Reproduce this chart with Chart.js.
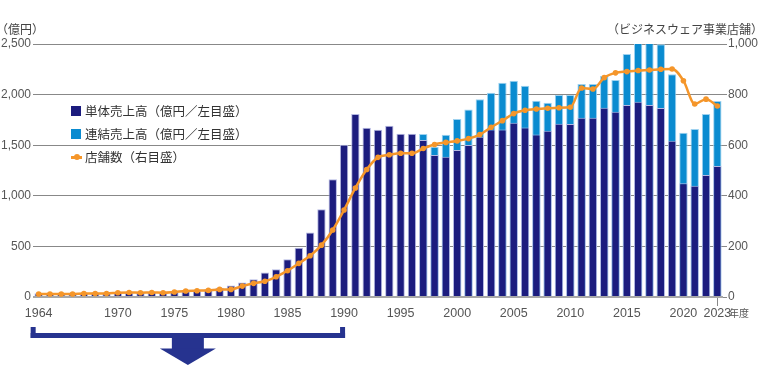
<!DOCTYPE html>
<html><head><meta charset="utf-8">
<script src="https://cdn.jsdelivr.net/npm/chart.js@4/dist/chart.umd.min.js"></script>
<style>
html,body{margin:0;padding:0;background:#fff;}
#wrap{position:relative;width:758px;height:376px;overflow:hidden;font-family:'Noto Sans CJK JP','Noto Sans',sans-serif;}
canvas{position:absolute;left:0;top:0;}
.hdr{position:absolute;font-size:12px;color:#444;line-height:14px;white-space:nowrap;}
.lg{position:absolute;left:71px;height:16px;line-height:16px;font-size:12.5px;color:#333;white-space:nowrap;}
.lg .sq{position:absolute;left:0;top:3px;width:10px;height:10px;}
.lg .tx{position:absolute;left:14px;top:0;}
.lg .ln{position:absolute;left:0;top:7px;width:11px;height:2.5px;background:#f5962a;}
.lg .dt{position:absolute;left:2.5px;top:5px;width:6px;height:6px;border-radius:50%;background:#f5962a;}
.suf{position:absolute;left:729px;top:306px;font-size:10px;color:#555;line-height:14px;}
</style></head>
<body><div id="wrap">
<canvas id="c" width="758" height="376"></canvas>
<div class="hdr" style="left:-4px;top:22px;">（億円）</div>
<div class="hdr" style="right:-5px;top:22px;">（ビジネスウェア事業店舗）</div>
<div class="lg" style="top:103px;"><span class="sq" style="background:#1c1c7e"></span><span class="tx">単体売上高（億円／左目盛）</span></div>
<div class="lg" style="top:126px;"><span class="sq" style="background:#0a8bd0"></span><span class="tx">連結売上高（億円／左目盛）</span></div>
<div class="lg" style="top:149px;"><span class="ln"></span><span class="dt"></span><span class="tx">店舗数（右目盛）</span></div>
<div class="suf">年度</div>
</div>
<script>
// Categories (fiscal years) — 61 bars in the picture
const years = [1963,1964,1965,1966,1967,1968,1969,1970,1971,1972,1973,1974,1975,1976,1977,1978,1979,1980,1981,1982,1983,1984,1985,1986,1987,1988,1989,1990,1991,1992,1993,1994,1995,1996,1997,1998,1999,2000,2001,2002,2003,2004,2005,2006,2007,2008,2009,2010,2011,2012,2013,2014,2015,2016,2017,2018,2019,2020,2021,2022,2023];
// Tick labels shown under the axis, keyed by category
const tickLabelsByYear = {1963:'1964',1970:'1970',1975:'1975',1980:'1980',1985:'1985',1990:'1990',1995:'1995',2000:'2000',2005:'2005',2010:'2010',2015:'2015',2020:'2020',2023:'2023'};
// 単体売上高（億円）
const singleSales = [38,40,40,42,43,44,44,45,45,46,
  48,45,49,56,60,76,92,114,143,175,
  243,273,372,487,637,866,1163,1505,1808,1673,
  1652,1693,1612,1612,1551,1404,1387,1453,1502,1584,
  1655,1655,1722,1675,1605,1642,1712,1710,1772,1772,
  1871,1830,1897,1930,1897,1868,1545,1123,1100,1205,
  1294];
// 連結売上高（億円）
const consolidatedSales = [null,null,null,null,null,null,null,null,null,null,
  null,null,null,null,null,null,null,null,null,null,
  null,null,null,null,null,null,null,null,null,null,
  null,null,null,null,1611,1485,1604,1760,1852,1953,
  2019,2118,2137,2087,1940,1920,1996,1996,2105,2105,
  2184,2144,2401,2520,2530,2497,2202,1624,1660,1808,
  1937];
// 店舗数（ビジネスウェア事業）
const storeCount = [12,12,12,12,14,14,14,17,18,17,
  18,17,20,24,25,26,30,30,43,54,
  62,80,104,133,163,205,265,344,431,504,
  552,562,568,568,587,603,611,617,626,642,
  671,697,725,738,743,746,748,750,826,822,
  867,886,891,895,897,900,901,855,763,782,
  755];
const leftTicks = {min:0,max:2500,step:500};
const rightTicks = {min:0,max:1000,step:200};
// bracket spans these categories
const bracketFrom = 1963, bracketTo = 1990;

const NAVY='#1c1c7e', LIGHT='#0a8bd0', ORANGE='#f5962a';
const tickFont = {family:"'Liberation Sans',Arial,sans-serif", size:12.5};

const bracketPlugin = {
  id:'bracket',
  afterDraw(chart){
    const x = chart.scales.x, ca = chart.chartArea, ctx = chart.ctx;
    const l = x.getPixelForValue(years.indexOf(bracketFrom)) - 8;
    const r = x.getPixelForValue(years.indexOf(bracketTo)) + 1;
    const b = ca.bottom;
    ctx.save();
    ctx.fillStyle = '#26338f';
    ctx.fillRect(l, b+30, 5, 11);
    ctx.fillRect(r-5, b+30, 5, 11);
    ctx.fillRect(l, b+36, r-l, 5);
    const cx = (l+r)/2;
    ctx.fillRect(cx-16, b+41, 32, 11);
    ctx.beginPath();
    ctx.moveTo(cx-28, b+51.5);
    ctx.lineTo(cx+28, b+51.5);
    ctx.lineTo(cx, b+68);
    ctx.closePath();
    ctx.fill();
    ctx.restore();
  }
};

new Chart(document.getElementById('c'), {
  type:'bar',
  data:{
    labels: years,
    datasets:[
      {type:'line', label:'店舗数（右目盛）', data:storeCount, yAxisID:'y1', order:0,
       borderColor:ORANGE, backgroundColor:ORANGE, borderWidth:2.5, pointRadius:2.8, pointHoverRadius:2.8,
       pointBackgroundColor:ORANGE, pointBorderWidth:0, cubicInterpolationMode:'monotone'},
      {label:'単体売上高（億円／左目盛）', data:singleSales, yAxisID:'y', order:1, grouped:false,
       backgroundColor:NAVY, borderColor:'#b4b8e2', borderWidth:1, barPercentage:0.74, categoryPercentage:1},
      {label:'連結売上高（億円／左目盛）', data:consolidatedSales, yAxisID:'y', order:2, grouped:false,
       backgroundColor:LIGHT, borderColor:'#9ed2f0', borderWidth:1, barPercentage:0.74, categoryPercentage:1}
    ]
  },
  options:{
    responsive:false, animation:false, devicePixelRatio:1,
    layout:{padding:{top:44,left:0,right:0,bottom:0}},
    plugins:{legend:{display:false}, tooltip:{enabled:false}},
    scales:{
      x:{
        offset:true,
        afterFit(s){ s.height = 79; },
        border:{display:false},
        grid:{offset:false, drawOnChartArea:false, drawTicks:true, tickLength:9,
              color:(c)=> (c.index===years.length-1 ? '#888' : 'rgba(0,0,0,0)'), lineWidth:1},
        ticks:{autoSkip:false, maxRotation:0, padding:0, color:'#555', font:tickFont,
               callback:(v,i)=> tickLabelsByYear[years[i]] || ''}
      },
      y:{
        position:'left', min:leftTicks.min, max:leftTicks.max,
        afterFit(s){ s.width = 33; },
        border:{display:false},
        grid:{drawTicks:false, color:(c)=> c.tick && c.tick.value===0 ? '#a8a8a8' : '#888',
              lineWidth:(c)=> c.tick && c.tick.value===0 ? 2 : 1},
        ticks:{stepSize:leftTicks.step, padding:2, color:'#555', font:{family:tickFont.family, size:12},
               callback:(v)=> Number(v).toLocaleString('en-US')}
      },
      y1:{
        position:'right', min:rightTicks.min, max:rightTicks.max,
        afterFit(s){ s.width = 35; },
        border:{display:false},
        grid:{drawOnChartArea:false, drawTicks:true, tickLength:4, color:'#888'},
        ticks:{stepSize:rightTicks.step, padding:1, color:'#555', font:{family:tickFont.family, size:12},
               callback:(v)=> Number(v).toLocaleString('en-US')}
      }
    }
  },
  plugins:[bracketPlugin]
});
</script>
</body></html>
